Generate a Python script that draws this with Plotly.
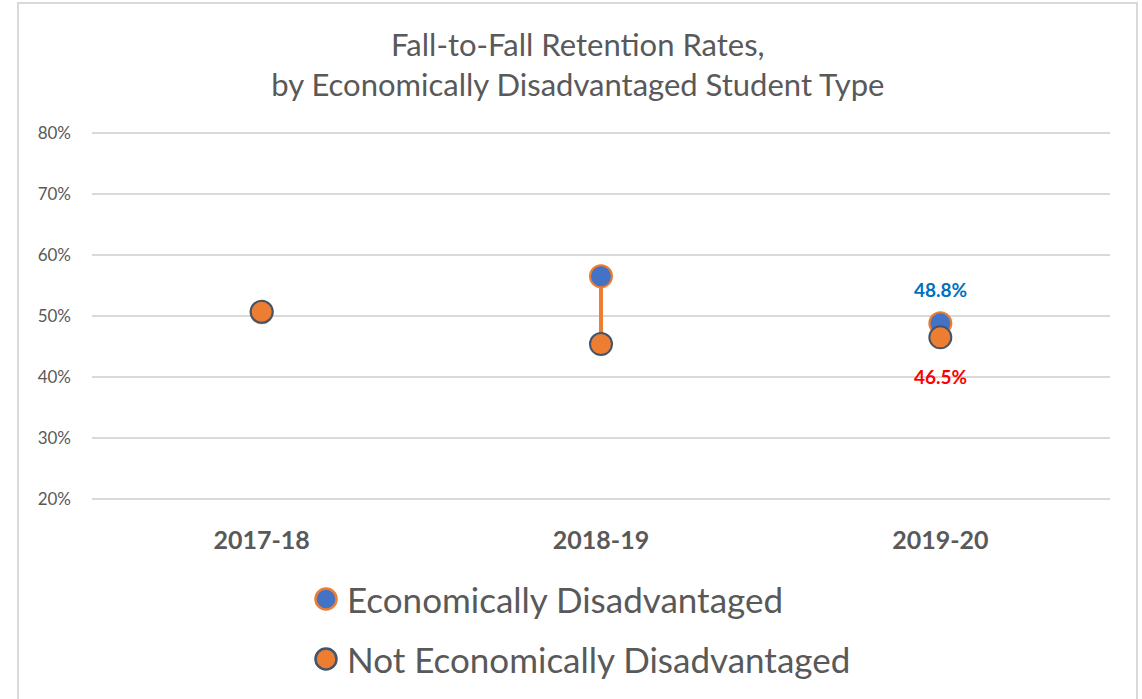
import plotly.graph_objects as go

years = ["2017-18", "2018-19", "2019-20"]
econ_disadv = [50.6, 56.5, 48.8]
not_econ_disadv = [50.7, 45.4, 46.5]
y_ticks = [20, 30, 40, 50, 60, 70, 80]
series_names = ["Economically Disadvantaged", "Not Economically Disadvantaged"]

BLUE = "#4472C4"
ORANGE = "#ED7D31"
SLATE = "#44546A"
GREY_TXT = "#595959"
FONT = "Lato"

W, H = 1142, 699
M_L, M_R, M_T, M_B = 92, 32, 131, 198
PLOT_W = W - M_L - M_R
PLOT_H = H - M_T - M_B


def px_to_paper(xp, yp):
    """Convert figure pixel coordinates to plot-area paper coordinates."""
    return (xp - M_L) / PLOT_W, (H - M_B - yp) / PLOT_H


fig = go.Figure()

# high-low connector between the two series for each year
hl_x, hl_y = [], []
for yr, a, b in zip(years, econ_disadv, not_econ_disadv):
    hl_x += [yr, yr, None]
    hl_y += [a, b, None]
fig.add_trace(go.Scatter(
    x=hl_x, y=hl_y, mode="lines", line=dict(color=ORANGE, width=4),
    showlegend=False, hoverinfo="skip"))

fig.add_trace(go.Scatter(
    x=years, y=econ_disadv, mode="markers", name=series_names[0], showlegend=False,
    marker=dict(size=22, color=BLUE, line=dict(color=ORANGE, width=2))))
fig.add_trace(go.Scatter(
    x=years, y=not_econ_disadv, mode="markers", name=series_names[1], showlegend=False,
    marker=dict(size=22, color=ORANGE, line=dict(color=SLATE, width=2))))

# value labels for the latest year
fig.add_annotation(x=years[2], y=econ_disadv[2], text=f"<b>{econ_disadv[2]:.1f}%</b>",
                   showarrow=False, yshift=34, font=dict(family=FONT, size=19, color="#0070C0"))
fig.add_annotation(x=years[2], y=not_econ_disadv[2], text=f"<b>{not_econ_disadv[2]:.1f}%</b>",
                   showarrow=False, yshift=-39, font=dict(family=FONT, size=19, color="#FF0000"))

# legend drawn below the plot: circle swatch + label per series
legend_styles = [(BLUE, ORANGE), (ORANGE, SLATE)]
legend_rows_px = [599, 659]
for name, (fill, edge), row in zip(series_names, legend_styles, legend_rows_px):
    xc, yc = px_to_paper(326, row)
    xt, _ = px_to_paper(345, row)
    r = 10.5
    fig.add_shape(type="circle", xref="paper", yref="paper", xsizemode="pixel", ysizemode="pixel",
                  xanchor=xc, yanchor=yc, x0=-r, x1=r, y0=-r, y1=r,
                  fillcolor=fill, line=dict(color=edge, width=2.5))
    fig.add_annotation(xref="paper", yref="paper", x=xt, y=yc, xanchor="left",
                       yanchor="middle", text=name, showarrow=False,
                       font=dict(family=FONT, size=35, color=GREY_TXT))

# chart frame
fx0, fy0 = px_to_paper(18, 3)
fx1, fy1 = px_to_paper(1137, 710)
fig.add_shape(type="rect", xref="paper", yref="paper",
              x0=fx0, x1=fx1, y0=fy1, y1=fy0,
              line=dict(color="#D9D9D9", width=2), fillcolor="rgba(0,0,0,0)", layer="below")

fig.update_layout(
    width=W, height=H,
    margin=dict(l=M_L, r=M_R, t=M_T, b=M_B),
    paper_bgcolor="white", plot_bgcolor="white",
    font=dict(family=FONT, color=GREY_TXT),
    showlegend=False,
    title=dict(text="Fall-to-Fall Retention Rates,<br>by Economically Disadvantaged Student Type",
               x=0.506, xanchor="center", y=1 - 56 / H, yanchor="middle",
               font=dict(family=FONT, size=31, color=GREY_TXT)),
    xaxis=dict(type="category", range=[-0.5, 2.5], showgrid=False, showline=False,
               ticks="", ticklabelstandoff=22,
               tickfont=dict(family=FONT, size=25, color=GREY_TXT, weight="bold")),
    yaxis=dict(range=[19.7, 80.3], tickvals=y_ticks, ticktext=[f"{v}%" for v in y_ticks],
               showgrid=True, gridcolor="#D9D9D9", gridwidth=1.5, zeroline=False,
               showline=False, ticks="", ticklabelstandoff=20,
               tickfont=dict(family=FONT, size=17, color=GREY_TXT)),
)

fig.write_html("out.html")
